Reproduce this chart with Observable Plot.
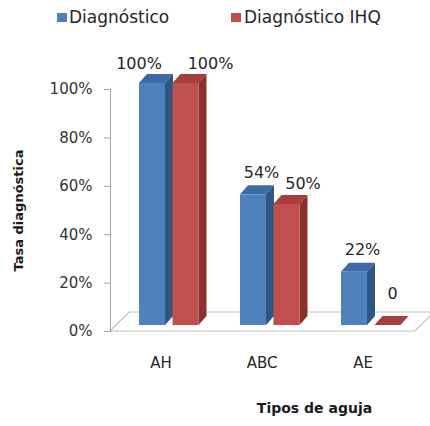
<!DOCTYPE html>
<html>
<head>
<meta charset="utf-8">
<script src="https://cdn.jsdelivr.net/npm/d3@7"></script>
<script src="https://cdn.jsdelivr.net/npm/@observablehq/plot@0.6"></script>
<style>
  html, body { margin: 0; padding: 0; background: #fff; }
  #chart { position: relative; width: 430px; height: 426px; font-family: "DejaVu Sans", sans-serif; }
  #legend { position: relative; width: 430px; height: 36px; }
  .sw { position: absolute; width: 10px; height: 9px; top: 13px; }
  .lt { position: absolute; top: 6px; font-size: 17px; line-height: 22px; color: #262626; white-space: nowrap; }
  svg { display: block; }
</style>
</head>
<body>
<div id="chart">
  <div id="legend"></div>
</div>
<script>
// ---- data ----
const categories = ["AH", "ABC", "AE"];
const seriesNames = ["Diagnóstico", "Diagnóstico IHQ"];
const diagnostico = [100, 54, 22];
const diagnosticoIHQ = [100, 50, 0];
const yTicks = [0, 20, 40, 60, 80, 100];
const xTitle = "Tipos de aguja";
const yTitle = "Tasa diagnóstica";

// ---- styles ----
const front = ["#4F81BD", "#C0504D"];
const side = ["#2F5583", "#8A302D"];
const top_ = ["#3C6AA6", "#A63F3C"];

const blue = categories.map((c, i) => ({cat: c, value: diagnostico[i], other: diagnosticoIHQ[i]}));
const red = categories.map((c, i) => ({cat: c, value: diagnosticoIHQ[i], other: diagnostico[i]}));
const fmt = d => d.value === 0 ? "0" : d.value + "%";
// labels of equal-height neighbours are spread apart (as the original does)
const close = d => Math.abs(d.value - d.other) < 2;

// legend
const legend = document.getElementById("legend");
[[57, 69], [231, 244]].forEach(([sx, tx], i) => {
  const s = document.createElement("div");
  s.className = "sw"; s.style.left = sx + "px"; s.style.background = front[i];
  legend.appendChild(s);
  const t = document.createElement("div");
  t.className = "lt"; t.style.left = tx + "px"; t.textContent = seriesNames[i];
  legend.appendChild(t);
});

const barDY = -6;
const plot = Plot.plot({
  width: 430,
  height: 390,
  marginTop: 53,
  marginBottom: 95,
  marginLeft: 118,
  marginRight: 9,
  style: {fontFamily: "DejaVu Sans, sans-serif", fontSize: "15px", color: "#262626", background: "#fff"},
  x: {domain: categories, padding: 0, label: null},
  y: {domain: [0, 100], label: null},
  marks: [
    Plot.frame({anchor: "left", dx: -8, stroke: "#a6a6a6"}),
    Plot.axisY({ticks: yTicks, tickFormat: d => d + "%", tickSize: 6, tickPadding: 12, dx: -8,
      stroke: "#a6a6a6", fill: "#333", fontSize: 15, label: null}),
    Plot.axisX({tickSize: 0, tickPadding: 26, dx: -8, fill: "#262626", fontSize: 15, label: null}),
    Plot.barY(blue, {x: "cat", y: "value", fill: front[0], insetLeft: 37.5, insetRight: 37.5,
      dx: -16.5, dy: barDY}),
    Plot.barY(red, {x: "cat", y: "value", fill: front[1], insetLeft: 37.5, insetRight: 37.5,
      dx: 17, dy: barDY}),
    Plot.text(blue, {filter: d => !close(d), x: "cat", y: "value", text: fmt, dx: -8.5, dy: -28, fontSize: 16, fill: "#262626"}),
    Plot.text(blue, {filter: close, x: "cat", y: "value", text: fmt, dx: -30, dy: -26, fontSize: 16, fill: "#262626"}),
    Plot.text(red, {filter: d => !close(d) && d.value > 0, x: "cat", y: "value", text: fmt, dx: 33, dy: -27, fontSize: 16, fill: "#262626"}),
    Plot.text(red, {filter: d => d.value === 0, x: "cat", y: "value", text: fmt, dx: 21.5, dy: -38, fontSize: 16, fill: "#262626"}),
    Plot.text(red, {filter: close, x: "cat", y: "value", text: fmt, dx: 41.5, dy: -26, fontSize: 16, fill: "#262626"}),
    Plot.text([yTitle], {frameAnchor: "left", textAnchor: "middle", rotate: -90, dx: -100, fontWeight: "bold", fontSize: 13, fill: "#1a1a1a"}),
    Plot.text([xTitle], {frameAnchor: "bottom", lineAnchor: "middle", dx: 44.5, dy: 77, fontWeight: "bold", fontSize: 14, fill: "#1a1a1a"})
  ]
});

// 3D decoration: floor + side/top faces, derived from the rendered bars/scales
const svg = d3.select(plot);
const ddx = 8, ddy = -9;
const y0 = plot.scale("y").apply(0);
const [xl, xr] = plot.scale("x").range;
const floor = svg.insert("g", ":first-child").attr("fill", "none").attr("stroke", "#bfbfbf").attr("stroke-width", 1.2);
const ax = xl - 8;
floor.append("polygon")
  .attr("points", [[ax, y0], [xr - 6, y0], [xr + 13, y0 - 19], [ax + 19, y0 - 19]].map(p => p.join(",")).join(" "));

svg.selectAll('g[aria-label="bar"]').each(function() {
  const fill = (this.getAttribute("fill") || "").toUpperCase();
  const k = front.indexOf(fill);
  if (k < 0) return;
  const g = d3.select(this);
  g.selectAll("rect").each(function() {
    const x = +this.getAttribute("x"), y = +this.getAttribute("y");
    const w = +this.getAttribute("width"), h = +(this.getAttribute("height") || 0);
    g.insert("polygon", ":first-child")
      .attr("fill", side[k])
      .attr("points", [[x + w, y], [x + w + ddx, y + ddy], [x + w + ddx, y + h + ddy], [x + w, y + h]].map(p => p.join(",")).join(" "));
    g.insert("polygon", ":first-child")
      .attr("fill", top_[k])
      .attr("points", [[x, y], [x + ddx, y + ddy], [x + w + ddx, y + ddy], [x + w, y]].map(p => p.join(",")).join(" "));
  });
});

document.getElementById("chart").appendChild(plot);
</script>
</body>
</html>
